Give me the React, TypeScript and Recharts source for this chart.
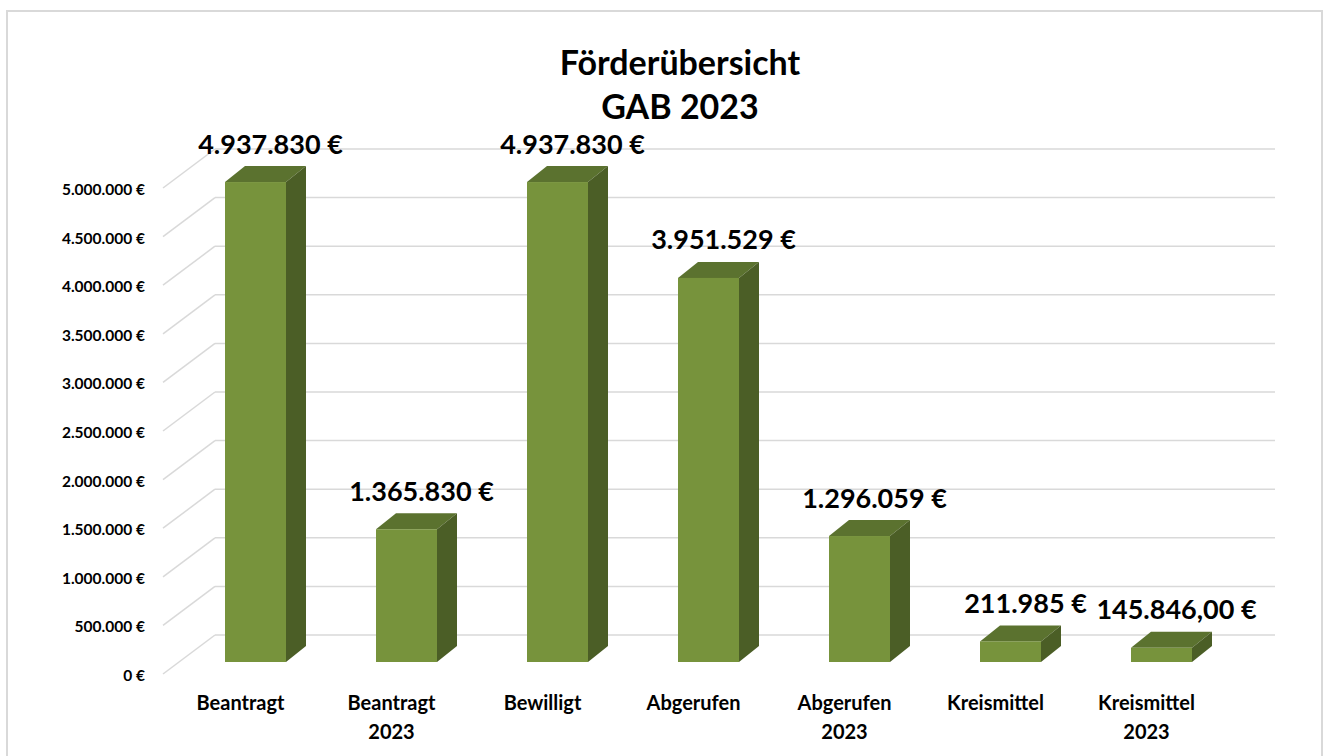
import { Bar, BarChart, CartesianGrid, LabelList, XAxis, YAxis } from "recharts"

// Förderübersicht GAB 2023
const categories = [
  "Beantragt",
  "Beantragt\n2023",
  "Bewilligt",
  "Abgerufen",
  "Abgerufen\n2023",
  "Kreismittel",
  "Kreismittel\n2023",
]
const amounts = [4937830, 1365830, 4937830, 3951529, 1296059, 211985, 145846]
const amountLabels = [
  "4.937.830 €",
  "1.365.830 €",
  "4.937.830 €",
  "3.951.529 €",
  "1.296.059 €",
  "211.985 €",
  "145.846,00 €",
]
const yTicks = [0, 500000, 1000000, 1500000, 2000000, 2500000, 3000000, 3500000, 4000000, 4500000, 5000000]

const chartData = categories.map((name, i) => ({ name, total: amounts[i], label: amountLabels[i] }))

const FONT = "Lato, Carlito, Calibri, sans-serif"
const FRONT = "#77933C"
const TOP = "#5B722F"
const SIDE = "#4B5E26"
const GRID = "#d9d9d9"
// 3d look
const DX = 20
const DY = 16
const WALL_DX = 35
const WALL_DY = -27
const LABEL_DY = 13

const euro = (v: number) => String(v).replace(/\B(?=(\d{3})+(?!\d))/g, ".") + " €"

function Bar3D(props: any) {
  const { x, y, width, height } = props
  if (height == null || height <= 0) return null
  const r = x + width
  const b = y + height
  return (
    <g>
      <polygon points={`${x},${y} ${x + DX},${y - DY} ${r + DX},${y - DY} ${r},${y}`} fill={TOP} />
      <polygon points={`${r},${y} ${r + DX},${y - DY} ${r + DX},${b - DY} ${r},${b}`} fill={SIDE} />
      <rect x={x} y={y} width={width} height={height} fill={FRONT} />
    </g>
  )
}

function gridLine(props: any) {
  const { x1, x2, y1, index } = props
  const yb = y1 + WALL_DY
  return (
    <g key={`grid-${index}`}>
      <line x1={x1 - 17} y1={y1 + LABEL_DY - 1} x2={x1 + WALL_DX} y2={yb} stroke={GRID} strokeWidth={1.5} />
      <line x1={x1 + WALL_DX} y1={yb} x2={x2 + 38} y2={yb} stroke={GRID} strokeWidth={1.5} />
    </g>
  )
}

function YTick(props: any) {
  const { y, payload } = props
  return (
    <text x={145} y={y + LABEL_DY} textAnchor="end" dominantBaseline="central"
      fontFamily={FONT} fontWeight={700} fontSize={15.5} fill="#000">
      {euro(payload.value)}
    </text>
  )
}

function XTick(props: any) {
  const { x, y, payload } = props
  const lines = String(payload.value).split("\n")
  return (
    <g>
      {lines.map((l, i) => (
        <text key={i} x={x - 15} y={y + 32 + i * 29} textAnchor="middle" dominantBaseline="central"
          fontFamily={FONT} fontWeight={700} fontSize={20} fill="#000">
          {l}
        </text>
      ))}
    </g>
  )
}

function ValueLabel(props: any) {
  const { x, y, width, index } = props
  return (
    <text x={x + width / 2 + 15} y={y - 39} textAnchor="middle" dominantBaseline="central"
      fontFamily={FONT} fontWeight={700} fontSize={27} fill="#000">
      {amountLabels[index]}
    </text>
  )
}

export default function App() {
  return (
    <div style={{ position: "absolute", left: 0, top: 0, width: 1326, height: 756, background: "#fff", overflow: "hidden" }}>
      <div style={{ position: "absolute", left: 6, top: 10, width: 1317, height: 800, border: "2px solid #d9d9d9", boxSizing: "border-box" }} />
      <div style={{
        position: "absolute", left: 0, top: 40, width: 1360, textAlign: "center",
        fontFamily: FONT, fontWeight: 700, fontSize: 34, lineHeight: "44px", color: "#000",
      }}>
        Förderübersicht<br />GAB 2023
      </div>
      <div style={{ position: "absolute", left: 0, top: 0 }}>
        <BarChart width={1326} height={756} data={chartData}
          margin={{ top: 176, right: 89, left: 0, bottom: 34 }}>
          <CartesianGrid vertical={false} horizontal={gridLine} />
          <XAxis dataKey="name" height={60} axisLine={false} tickLine={false} interval={0} tick={<XTick />} />
          <YAxis width={180} domain={[0, 5000000]} ticks={yTicks} axisLine={false} tickLine={false} tick={<YTick />} />
          <Bar dataKey="total" barSize={61} shape={<Bar3D />} isAnimationActive={false}>
            <LabelList dataKey="label" content={<ValueLabel />} />
          </Bar>
        </BarChart>
      </div>
    </div>
  )
}
